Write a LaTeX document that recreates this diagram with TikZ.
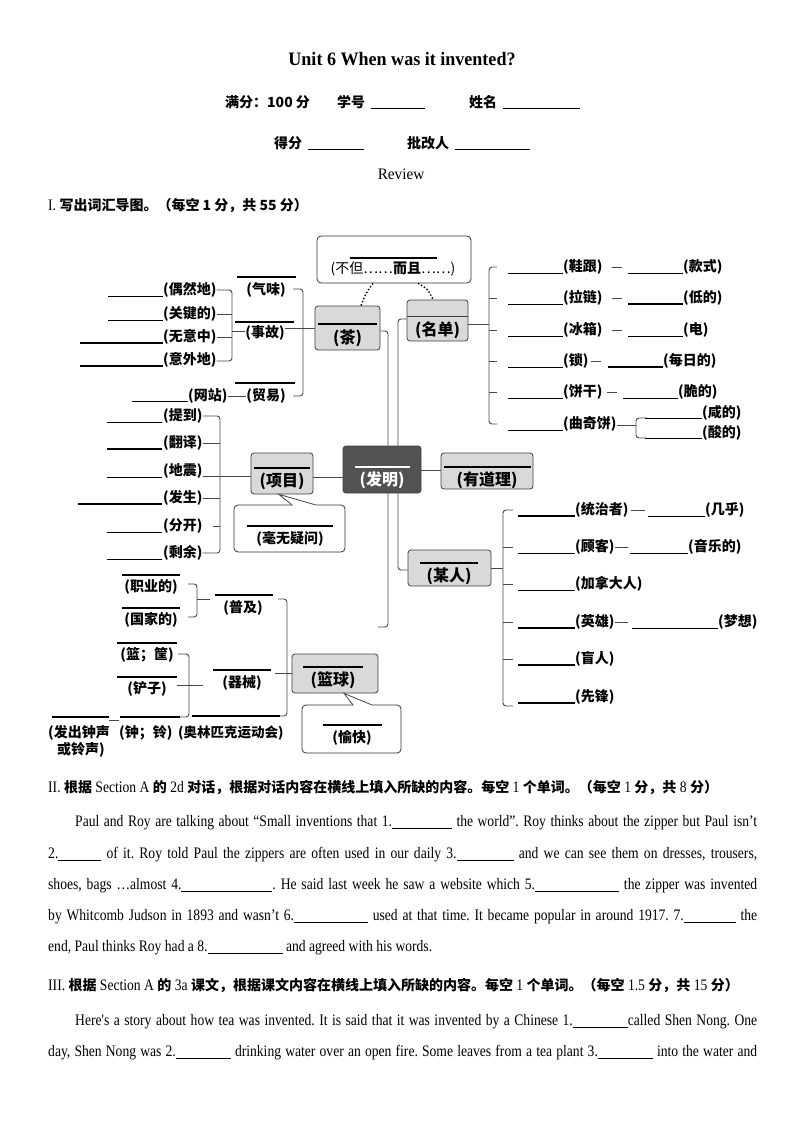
\documentclass[tikz,border=0pt]{standalone}
\usepackage{fontspec}
\setmainfont{Liberation Serif}
\newfontfamily\cjk{Noto Sans CJK SC}
\newfontfamily\tnr[FakeStretch=0.85]{Liberation Serif}
\newfontfamily\ttl[FakeStretch=0.95]{Liberation Serif}
\newcommand\labfont{\cjk\bfseries\fontsize{14}{14}\selectfont}
\newcommand\boxfont{\cjk\bfseries\fontsize{16}{16}\selectfont}
\newcommand\hfont{\cjk\bfseries\fontsize{14}{14}\selectfont}
\newcommand\pfont{\tnr\fontsize{16}{16}\selectfont}
\newcommand\zh[1]{{\hfont #1}}
\newcommand\blk[1]{\rule[-1.5pt]{#1pt}{0.8pt}}
\frenchspacing
\tikzset{
  lab/.style={inner sep=0pt, anchor=west, font=\labfont},
  clab/.style={inner sep=0pt, font=\labfont},
  boxlab/.style={inner sep=0pt, font=\boxfont},
  mbox/.style={draw=black!75, fill=black!15, rounded corners=3pt, line width=0.8pt, inner sep=0pt},
  callout/.style={draw=black!80, fill=white, rounded corners=4pt, line width=0.8pt, inner sep=0pt},
  conn/.style={draw=black!72, line width=0.9pt, rounded corners=3pt},
  tail/.style={draw=black!72, line width=0.8pt},
  blankln/.style={line width=1pt},
  thickblank/.style={line width=1.8pt},
  ovl/.style={line width=1.5pt},
  ptext/.style={anchor=west, inner sep=0pt, font=\pfont},
}
\begin{document}
\frenchspacing
\begin{tikzpicture}[x=1pt,y=-1pt]
\useasboundingbox (0,0) rectangle (794,1123);
\fill[white] (0,0) rectangle (794,1123);

% ---------- header ----------
\node[font=\ttl\bfseries\fontsize{19}{19}\selectfont, inner sep=0] (title) at (402,59) {Unit 6 When was it invented?};
\node[lab] (mf) at (225,102) {满分：100 分};
\node[lab] (xh) at (337,102) {学号};
\draw[line width=0.8pt] (371,108) -- (425,108);
\node[lab] (xmz) at (469,102) {姓名};
\draw[line width=0.8pt] (503,108) -- (580,108);
\node[lab] (df) at (274,143) {得分};
\draw[line width=0.8pt] (308,149) -- (364,149);
\node[lab] (pg) at (407,143) {批改人};
\draw[line width=0.8pt] (455,149) -- (530,149);
\node[font=\ttl\fontsize{16}{16}\selectfont, inner sep=0] (rv) at (401,174) {Review};
\node[ptext] (h1) at (48,206) {I. \zh{写出词汇导图。（每空 1 分，共 55 分）}};

% ---------- mind map: boxes ----------
\node[callout, minimum width=154pt, minimum height=47pt] (bd) at (394,259.5) {};
\draw[ovl] (350,258) -- (437,258);
\node[inner sep=0, font=\cjk\fontsize{14}{14}\selectfont] (bdt) at (393,269) {(不但……\textbf{而且}……)};

\node[mbox, minimum width=65pt, minimum height=44pt] (cha) at (347.5,328) {};
\draw[line width=1.2pt] (318,324) -- (377,324);
\node[boxlab] (chat) at (347.5,338) {(茶)};

\node[mbox, minimum width=61pt, minimum height=41pt] (md) at (437.5,320.5) {};
\draw[line width=1pt, black!75] (md.west |- 0,316) -- (md.east |- 0,316);
\node[boxlab] (mdt) at (437.5,330) {(名单)};

\node[mbox, fill=black!68, minimum width=78pt, minimum height=47pt] (fm) at (382,469.5) {};
\draw[ovl, white] (355,467) -- (410,467);
\node[boxlab, text=white] (fmt) at (382,480) {(发明)};

\node[mbox, minimum width=92pt, minimum height=36pt] (yd) at (487,471) {};
\draw[line width=2pt] (444,467) -- (531,467);
\node[boxlab] (ydt) at (487,480) {(有道理)};

\node[mbox, minimum width=62pt, minimum height=41pt] (xm) at (282,473.5) {};
\draw[ovl] (254,468) -- (310,468);
\node[boxlab] (xmt) at (282,481) {(项目)};

\node[mbox, minimum width=83pt, minimum height=36pt] (mr) at (449.5,568) {};
\draw[line width=1.2pt] (420,563) -- (478,563);
\node[boxlab] (mrt) at (449,576) {(某人)};

\node[mbox, minimum width=86pt, minimum height=39pt] (lq) at (335,673.5) {};
\draw[ovl] (303,667) -- (363,667);
\node[boxlab] (lqt) at (333,680) {(篮球)};

% callout 毫无疑问
\node[callout, minimum width=111pt, minimum height=47pt] (hw) at (289.5,528.5) {};
\fill[white] (292.5,503.6) rectangle (315.5,506.2);
\fill[white] (292,505) -- (279,494.5) -- (316,505) -- cycle;
\draw[tail] (292,505) -- (xm.south -| 279,0) -- (316,505);
\draw[line width=1.8pt] (247,526) -- (333,526);
\node[boxlab, font=\labfont] (hwt) at (290,539) {(毫无疑问)};

% callout 愉快
\node[callout, minimum width=99pt, minimum height=48pt] (yk) at (351.5,729) {};
\fill[white] (353.5,703.6) rectangle (371.5,706.2);
\fill[white] (353,705) -- (344,694) -- (372,705) -- cycle;
\draw[tail] (353,705) -- (lq.south -| 344,0) -- (372,705);
\draw[ovl] (323,725) -- (382,725);
\node[boxlab, font=\labfont] (ykt) at (352,738) {(愉快)};

% dotted links from top callout
\draw[dotted, line width=1.4pt] (bd.south -| 373,0) .. controls (366,293) .. (cha.north -| 361,0);
\draw[dotted, line width=1.4pt] (bd.south -| 418,0) .. controls (428,289) .. (md.north -| 433,0);

% main connectors
\draw[conn] (cha.east |- 0,331) -- (388,331) -- (fm.north -| 388,0);
\draw[conn] (md.west |- 0,319) -- (398,319) -- (fm.north -| 398,0);
\draw[conn] (fm.south -| 388,0) -- (388,627) -- (378,627);
\draw[conn] (fm.south -| 398,0) -- (398,570) -- (mr.west |- 0,570);
\draw[conn] (fm.east |- 0,470) -- (yd.west |- 0,470);
\draw[conn] (xm.east |- 0,477) -- (fm.west |- 0,477);

% ---------- tea branch ----------
\draw[line width=1.8pt] (237,277) -- (296,277);
\node[clab] (qw) at (266,290) {(气味)};
\draw[line width=1.2pt] (235,322) -- (294,322);
\node[clab] (sg) at (265,333) {(事故)};
\draw[line width=1.8pt] (235,383) -- (295,383);
\node[clab] (my) at (266,396) {(贸易)};
\draw[conn] (293,289) -- (303,289) -- (303,396) -- (293,396);
\draw[conn] (sg.east |- 0,328) -- (cha.west |- 0,328);

\node[lab] (t1) at (163,290) {(偶然地)};
\node[lab] (t2) at (163,314) {(关键的)};
\node[lab] (t3) at (163,337) {(无意中)};
\node[lab] (t4) at (163,360) {(意外地)};
\draw[blankln] (108,296) -- (163,296);
\draw[blankln] (108,320) -- (163,320);
\draw[thickblank] (80,343) -- (163,343);
\draw[thickblank] (80,366) -- (163,366);
\draw[conn] (t1.east |- 0,290) -- (232,290) -- (232,361) -- (t4.east |- 0,361);
\draw[conn] (t2.east |- 0,314) -- (232,314);
\draw[conn] (t3.east |- 0,337) -- (232,337);
\draw[conn] (232,331) -- (sg.west |- 0,331);

\draw[blankln] (132,401) -- (188,401);
\node[lab] (wz) at (188,396) {(网站)};
\draw[conn] (wz.east |- 0,396) -- (my.west |- 0,396);

% ---------- project branch ----------
\node[lab] (p1) at (163,416) {(提到)};
\node[lab] (p2) at (163,443) {(翻译)};
\node[lab] (p3) at (163,471) {(地震)};
\node[lab] (p4) at (163,498) {(发生)};
\node[lab] (p5) at (163,526) {(分开)};
\node[lab] (p6) at (163,553) {(剩余)};
\draw[blankln] (107,422) -- (162,422);
\draw[thickblank] (107,449) -- (162,449);
\draw[blankln] (107,477) -- (162,477);
\draw[thickblank] (78,504) -- (162,504);
\draw[blankln] (107,532) -- (162,532);
\draw[blankln] (107,559) -- (162,559);
\draw[conn] (p1.east |- 0,416) -- (220,416) -- (220,553) -- (p6.east |- 0,553);
\draw[conn] (p2.east |- 0,443) -- (220,443);
\draw[conn] (p4.east |- 0,498) -- (220,498);
\draw[conn] (213,526) -- (220,526);
\draw[conn] (p3.east |- 0,476) -- (xm.west |- 0,476);

% ---------- list branch ----------
\draw[conn] (md.east |- 0,324) -- (489,324);
\draw[conn] (497,267) -- (489,267) -- (489,424) -- (497,424);
\foreach \yy in {298,330,361,392} \draw[conn] (489,\yy) -- (497,\yy);
\foreach \yy in {267,298,330,361,392,424} \draw[blankln] (508,\yy+6) -- (563,\yy+6);
\node[lab] (r1) at (563,267) {(鞋跟)};
\node[lab] (r2) at (563,298) {(拉链)};
\node[lab] (r3) at (563,330) {(冰箱)};
\node[lab] (r4) at (563,361) {(锁)};
\node[lab] (r5) at (563,392) {(饼干)};
\node[lab] (r6) at (563,424) {(曲奇饼)};
\node[lab] (s1) at (683,267) {(款式)};
\node[lab] (s2) at (683,298) {(低的)};
\node[lab] (s3) at (683,330) {(电)};
\node[lab] (s4) at (663,361) {(每日的)};
\node[lab] (s5) at (678,392) {(脆的)};
\node[lab] (s6) at (702,413) {(咸的)};
\node[lab] (s7) at (702,433) {(酸的)};
\draw[conn] (612,267) -- (622,267);
\draw[conn] (612,298) -- (622,298);
\draw[conn] (612,330) -- (622,330);
\draw[conn] (591,361) -- (601,361);
\draw[conn] (607,392) -- (617,392);
\draw[blankln] (628,273) -- (683,273);
\draw[thickblank] (628,304) -- (683,304);
\draw[blankln] (628,336) -- (683,336);
\draw[thickblank] (608,367) -- (663,367);
\draw[blankln] (623,398) -- (678,398);
\draw[conn] (r6.east |- 0,425) -- (636,425);
\draw[conn] (647,418) -- (636,418) -- (636,438) -- (647,438);
\draw[blankln] (645,418) -- (702,418);
\draw[blankln] (645,438) -- (702,438);

% ---------- someone branch ----------
\draw[conn] (mr.east |- 0,568) -- (503,568);
\draw[conn] (513,510) -- (503,510) -- (503,706) -- (513,706);
\foreach \yy in {547,584,622,659} \draw[conn] (503,\yy) -- (513,\yy);
\draw[thickblank] (518,516) -- (575,516);
\draw[blankln] (518,553) -- (575,553);
\draw[blankln] (518,590) -- (575,590);
\draw[thickblank] (518,628) -- (575,628);
\draw[thickblank] (518,665) -- (575,665);
\draw[thickblank] (518,703) -- (575,703);
\node[lab] (m1) at (575,510) {(统治者)};
\node[lab] (m2) at (575,547) {(顾客)};
\node[lab] (m3) at (575,584) {(加拿大人)};
\node[lab] (m4) at (575,622) {(英雄)};
\node[lab] (m5) at (575,659) {(盲人)};
\node[lab] (m6) at (575,697) {(先锋)};
\node[lab] (n1) at (705,510) {(几乎)};
\node[lab] (n2) at (688,547) {(音乐的)};
\node[lab] (n4) at (718,622) {(梦想)};
\draw[conn] (631,510) -- (645,510);
\draw[conn] (615,547) -- (628,547);
\draw[conn] (615,622) -- (628,622);
\draw[blankln] (648,516) -- (705,516);
\draw[blankln] (630,553) -- (688,553);
\draw[blankln] (632,628) -- (718,628);

% ---------- basketball branch ----------
\draw[ovl] (122,575) -- (180,575);
\node[clab] (b1) at (151,587) {(职业的)};
\draw[ovl] (122,608) -- (180,608);
\node[clab] (b2) at (151,620) {(国家的)};
\draw[conn] (188,584) -- (197,584) -- (197,617) -- (188,617);
\draw[conn] (197,599) -- (210,599);
\draw[line width=1.2pt] (215,595) -- (273,595);
\node[clab] (pj) at (243,608) {(普及)};
\draw[conn] (278,599) -- (287,599) -- (287,716) -- (276,716);
\draw[line width=1.2pt] (192,716) -- (280,716);
\draw[ovl] (213,670) -- (271,670);
\node[clab] (qx) at (242,683) {(器械)};
\draw[conn] (275,673) -- (lq.west |- 0,673);
\draw[ovl] (117,643) -- (177,643);
\node[clab] (b3) at (147,655) {(篮；筐)};
\draw[ovl] (117,677) -- (177,677);
\node[clab] (b4) at (147,689) {(铲子)};
\draw[conn] (178,654) -- (189,654) -- (189,717) -- (180,717);
\draw[conn] (177,685) -- (203,685);
\draw[ovl] (120,717) -- (180,717);
\node[lab] (b5) at (119,733) {(钟；铃)};
\draw[ovl] (52,717) -- (109,717);
\draw[conn] (109,720) -- (119,720);
\node[lab] (b6) at (48,733) {(发出钟声};
\node[lab] (b7) at (57,750) {或铃声)};
\node[lab, font=\cjk\bfseries\fontsize{13.5}{13.5}\selectfont] (b8) at (178,733) {(奥林匹克运动会)};

% ---------- Section II ----------
\node[ptext] (h2) at (48,787) {II. \zh{根据} Section A \zh{的} 2d \zh{对话，根据对话内容在横线上填入所缺的内容。每空} 1 \zh{个单词。（每空} 1 \zh{分，共} 8 \zh{分）}};
\node[ptext] (l1) at (75,823) {\makebox[682pt][s]{Paul and Roy are talking about “Small inventions that 1.\blk{60} the world”. Roy thinks about the zipper but Paul isn’t}};
\node[ptext] (l2) at (48,855) {\makebox[709pt][s]{2.\blk{43} of it. Roy told Paul the zippers are often used in our daily 3.\blk{57} and we can see them on dresses, trousers,}};
\node[ptext] (l3) at (48,886) {\makebox[709pt][s]{shoes, bags …almost 4.\blk{91}. He said last week he saw a website which 5.\blk{84} the zipper was invented}};
\node[ptext] (l4) at (48,917) {\makebox[709pt][s]{by Whitcomb Judson in 1893 and wasn’t 6.\blk{74} used at that time. It became popular in around 1917. 7.\blk{52} the}};
\node[ptext] (l5) at (48,948) {end, Paul thinks Roy had a 8.\blk{75} and agreed with his words.};

% ---------- Section III ----------
\node[ptext] (h3) at (48,985) {III. \zh{根据} Section A \zh{的} 3a \zh{课文，根据课文内容在横线上填入所缺的内容。每空} 1 \zh{个单词。（每空} 1.5 \zh{分，共} 15 \zh{分）}};
\node[ptext] (k1) at (75,1022) {\makebox[682pt][s]{Here's a story about how tea was invented. It is said that it was invented by a Chinese 1.\blk{55}called Shen Nong. One}};
\node[ptext] (k2) at (48,1053) {\makebox[709pt][s]{day, Shen Nong was 2.\blk{55} drinking water over an open fire. Some leaves from a tea plant 3.\blk{55} into the water and}};
\end{tikzpicture}
\end{document}
